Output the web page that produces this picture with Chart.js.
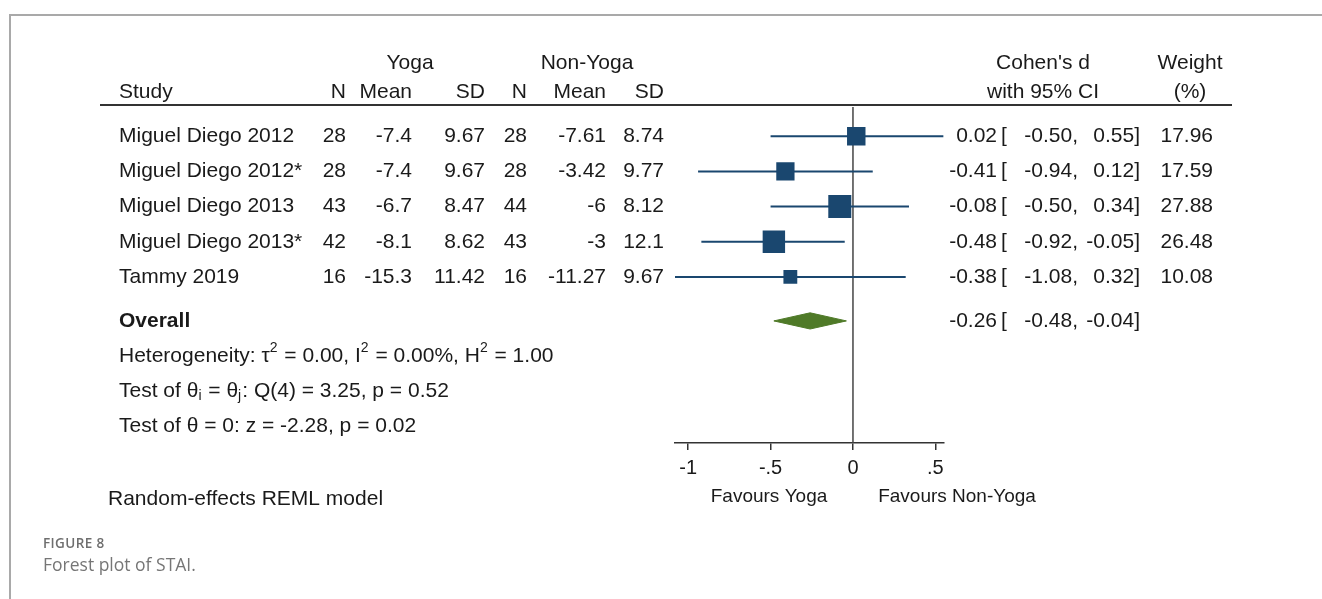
<!DOCTYPE html>
<html>
<head>
<meta charset="utf-8">
<script src="https://cdn.jsdelivr.net/npm/chart.js@4"></script>
<style>
  html, body { margin: 0; padding: 0; background: #fff; }
  #wrap { position: relative; width: 1322px; height: 599px; overflow: hidden; }
  #frame { position: absolute; left: 9px; top: 14px; width: 1330px; height: 600px;
           border-top: 2px solid #a9a9a9; border-left: 2px solid #a9a9a9; }
  #plot { position: absolute; left: 0; top: 0; }
  .fig-label { position: absolute; left: 43px; top: 534px; font: 600 13.5px "Open Sans", sans-serif;
               color: #6e6e6e; letter-spacing: 0.4px; }
  .fig-caption { position: absolute; left: 43px; top: 552px; font: 400 17.5px "Open Sans", sans-serif;
                 color: #767676; }
</style>
</head>
<body>
<div id="wrap">
  <div id="frame"></div>
  <canvas id="plot" width="1322" height="599"></canvas>
  <div class="fig-label">FIGURE 8</div>
  <div class="fig-caption">Forest plot of STAI.</div>
</div>
<script>
// Study-level data (STAI)
const studies   = ['Miguel Diego 2012', 'Miguel Diego 2012*', 'Miguel Diego 2013', 'Miguel Diego 2013*', 'Tammy 2019'];
const yogaN     = [28, 28, 43, 42, 16];
const yogaMean  = [-7.4, -7.4, -6.7, -8.1, -15.3];
const yogaSD    = [9.67, 9.67, 8.47, 8.62, 11.42];
const ctrlN     = [28, 28, 44, 43, 16];
const ctrlMean  = [-7.61, -3.42, -6, -3, -11.27];
const ctrlSD    = [8.74, 9.77, 8.12, 12.1, 9.67];
const effect    = [0.02, -0.41, -0.08, -0.48, -0.38];
const ciLow     = [-0.50, -0.94, -0.50, -0.92, -1.08];
const ciHigh    = [0.55, 0.12, 0.34, -0.05, 0.32];
const weight    = [17.96, 17.59, 27.88, 26.48, 10.08];

// Pooled estimate
const overallEffect = -0.26;
const overallLow    = -0.48;
const overallHigh   = -0.04;

// Axis ticks
const xTicks = [-1, -0.5, 0, 0.5];

// Layout
const NAVY = '#1a476f';
const GREEN = '#4f7a28';
const INK = '#1a1a1a';
const FAMILY = '"Liberation Sans", Arial, sans-serif';
const FONT = '21px ' + FAMILY;
const BOLD = 'bold 21px ' + FAMILY;
const SMALL = '14px ' + FAMILY;
const AXIS_NOTE = '19px ' + FAMILY;
const COL = { study: 119, n1: 346, mean1: 412, sd1: 485, n2: 527, mean2: 606, sd2: 664,
              est: 997, brk: 1001, lo: 1078, hi: 1140, wt: 1213 };
const ROW_OVERALL = 5.25;
const ROW_HET = 6.25, ROW_TEST1 = 7.25, ROW_TEST2 = 8.25;
const ROW_HEAD1 = -2.08, ROW_HEAD2 = -1.25, ROW_RULE = -0.89;
const Y_MIN = -0.83, Y_MAX = 8.72;
const DIAMOND_HALF = 0.23;

const fmtTick = v => v === 0 ? '0' : String(v).replace('0.', '.');
const f2 = v => v.toFixed(2);

// Table text, header rule and annotations
const tablePlugin = {
  id: 'forestTable',
  afterDraw(chart) {
    const ctx = chart.ctx;
    const y = chart.scales.y;
    const py = v => y.getPixelForValue(v);
    ctx.save();
    ctx.fillStyle = INK;
    ctx.textBaseline = 'middle';
    const txt = (s, x, yy, align, font) => {
      ctx.font = font || FONT;
      ctx.textAlign = align || 'left';
      ctx.fillText(s, x, yy);
    };
    // rich line with super/subscripts
    const rich = (parts, x, yy) => {
      ctx.textAlign = 'left';
      let cx = x;
      parts.forEach(p => {
        ctx.font = p.sup || p.sub ? SMALL : FONT;
        const dy = p.sup ? -8 : (p.sub ? 5 : 0);
        ctx.fillText(p.t, cx, yy + dy);
        cx += ctx.measureText(p.t).width + (p.sup ? 1 : (p.sub ? 1 : 0));
      });
    };

    // headers
    txt('Yoga', 410, py(ROW_HEAD1), 'center');
    txt('Non-Yoga', 587, py(ROW_HEAD1), 'center');
    txt("Cohen's d", 1043, py(ROW_HEAD1), 'center');
    txt('Weight', 1190, py(ROW_HEAD1), 'center');
    txt('Study', COL.study, py(ROW_HEAD2), 'left');
    txt('N', COL.n1, py(ROW_HEAD2), 'right');
    txt('Mean', COL.mean1, py(ROW_HEAD2), 'right');
    txt('SD', COL.sd1, py(ROW_HEAD2), 'right');
    txt('N', COL.n2, py(ROW_HEAD2), 'right');
    txt('Mean', COL.mean2, py(ROW_HEAD2), 'right');
    txt('SD', COL.sd2, py(ROW_HEAD2), 'right');
    txt('with 95% CI', 1043, py(ROW_HEAD2), 'center');
    txt('(%)', 1190, py(ROW_HEAD2), 'center');

    // header rule
    ctx.strokeStyle = '#333';
    ctx.lineWidth = 2;
    ctx.beginPath();
    ctx.moveTo(100, py(ROW_RULE));
    ctx.lineTo(1232, py(ROW_RULE));
    ctx.stroke();

    // study rows
    studies.forEach((s, i) => {
      const yy = py(i);
      txt(s, COL.study, yy, 'left');
      txt(String(yogaN[i]), COL.n1, yy, 'right');
      txt(String(yogaMean[i]), COL.mean1, yy, 'right');
      txt(String(yogaSD[i]), COL.sd1, yy, 'right');
      txt(String(ctrlN[i]), COL.n2, yy, 'right');
      txt(String(ctrlMean[i]), COL.mean2, yy, 'right');
      txt(String(ctrlSD[i]), COL.sd2, yy, 'right');
      txt(f2(effect[i]), COL.est, yy, 'right');
      txt('[', COL.brk, yy, 'left');
      txt(f2(ciLow[i]) + ',', COL.lo, yy, 'right');
      txt(f2(ciHigh[i]) + ']', COL.hi, yy, 'right');
      txt(f2(weight[i]), COL.wt, yy, 'right');
    });

    // overall row
    const yo = py(ROW_OVERALL);
    txt('Overall', COL.study, yo, 'left', BOLD);
    txt(f2(overallEffect), COL.est, yo, 'right');
    txt('[', COL.brk, yo, 'left');
    txt(f2(overallLow) + ',', COL.lo, yo, 'right');
    txt(f2(overallHigh) + ']', COL.hi, yo, 'right');

    rich([{ t: 'Heterogeneity: \u03c4' }, { t: '2', sup: true }, { t: ' = 0.00, I' }, { t: '2', sup: true },
          { t: ' = 0.00%, H' }, { t: '2', sup: true }, { t: ' = 1.00' }], COL.study, py(ROW_HET));
    rich([{ t: 'Test of \u03b8' }, { t: 'i', sub: true }, { t: ' = \u03b8' }, { t: 'j', sub: true },
          { t: ': Q(4) = 3.25, p = 0.52' }], COL.study, py(ROW_TEST1));
    txt('Test of \u03b8 = 0: z = -2.28, p = 0.02', COL.study, py(ROW_TEST2), 'left');

    // footer labels
    txt('Random-effects REML model', 108, 499, 'left');
    txt('Favours Yoga', 769, 497, 'center', AXIS_NOTE);
    txt('Favours Non-Yoga', 957, 497, 'center', AXIS_NOTE);
    ctx.restore();
  }
};

const ciSets = studies.map((s, i) => ({
  label: s + ' CI',
  data: [{ x: ciLow[i], y: i }, { x: ciHigh[i], y: i }],
  showLine: true,
  borderColor: NAVY,
  borderWidth: 2,
  pointRadius: 0,
  order: 3
}));

new Chart(document.getElementById('plot'), {
  type: 'scatter',
  data: {
    datasets: [
      {
        label: 'no effect',
        data: [{ x: 0, y: Y_MIN }, { x: 0, y: Y_MAX }],
        showLine: true,
        borderColor: '#444',
        borderWidth: 1.5,
        pointRadius: 0,
        order: 4
      },
      ...ciSets,
      {
        label: 'Overall',
        data: [
          { x: overallLow, y: ROW_OVERALL },
          { x: overallEffect, y: ROW_OVERALL - DIAMOND_HALF },
          { x: overallHigh, y: ROW_OVERALL },
          { x: overallEffect, y: ROW_OVERALL + DIAMOND_HALF },
          { x: overallLow, y: ROW_OVERALL }
        ],
        showLine: true,
        fill: 'shape',
        backgroundColor: GREEN,
        borderColor: GREEN,
        borderWidth: 1,
        pointRadius: 0,
        tension: 0,
        order: 2
      },
      {
        label: "Cohen's d",
        data: effect.map((e, i) => ({ x: e, y: i })),
        pointStyle: 'rect',
        pointRadius: weight.map(w => 3.08 * Math.sqrt(w)),
        backgroundColor: NAVY,
        borderWidth: 0,
        order: 1
      }
    ]
  },
  options: {
    responsive: false,
    animation: false,
    events: [],
    layout: { padding: { left: 675, right: 1322 - 943.6, top: 107, bottom: 599 - 443 - 40 } },
    plugins: { legend: { display: false }, tooltip: { enabled: false } },
    scales: {
      x: {
        type: 'linear',
        min: -1.08,
        max: 0.55,
        afterBuildTicks: s => { s.ticks = xTicks.map(v => ({ value: v })); },
        afterFit: s => { s.height = 40; },
        ticks: { callback: v => fmtTick(v), font: { family: FAMILY, size: 20 }, color: INK,
                 padding: 6, maxRotation: 0, autoSkip: false },
        grid: { drawOnChartArea: false, drawTicks: true, tickLength: 7, color: '#333', lineWidth: 1.5 },
        border: { display: true, color: '#333', width: 1.5 }
      },
      y: {
        type: 'linear',
        reverse: true,
        min: Y_MIN,
        max: Y_MAX,
        display: false
      }
    }
  },
  plugins: [tablePlugin]
});
</script>
</body>
</html>
